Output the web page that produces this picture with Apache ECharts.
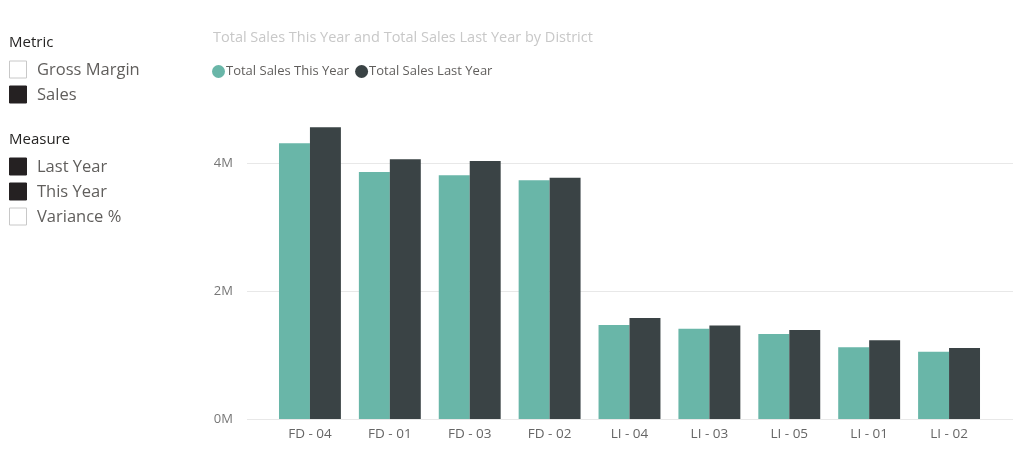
<!DOCTYPE html>
<html lang="en">
<head>
    <meta charset="UTF-8">
    <title>Total Sales by District</title>
    <script src="https://cdn.jsdelivr.net/npm/echarts@6/dist/echarts.min.js"></script>
    <style>
        html, body { margin: 0; padding: 0; background: #fff; }
        #chart { width: 1024px; height: 452px; }
    </style>
</head>
<body>
<div id="chart"></div>
<script>
    // data (values in M)
    var districts = ['FD - 04', 'FD - 01', 'FD - 03', 'FD - 02', 'LI - 04', 'LI - 03', 'LI - 05', 'LI - 01', 'LI - 02'];
    var salesThisYear = [4.31, 3.86, 3.81, 3.73, 1.47, 1.41, 1.33, 1.12, 1.05];
    var salesLastYear = [4.56, 4.06, 4.03, 3.77, 1.58, 1.46, 1.39, 1.23, 1.11];
    var yTicks = [0, 2, 4];

    // slicer panels on the left
    var metricItems = [['Gross Margin', false], ['Sales', true]];
    var measureItems = [['Last Year', true], ['This Year', true], ['Variance %', false]];

    var font = "'Segoe UI', 'Open Sans', 'Noto Sans', sans-serif";
    var chart = echarts.init(document.getElementById('chart'));

    // title centre y, then one row every 25px
    function slicer(title, items, cy) {
        var els = [{
            type: 'text', x: 9, y: cy,
            style: { text: title, fill: '#252423', font: '15px ' + font, verticalAlign: 'middle' }
        }];
        items.forEach(function (it, i) {
            var y = cy + 26 + i * 25;
            els.push({
                type: 'rect', shape: { x: 9.5, y: y - 8, width: 17, height: 17 },
                style: { fill: it[1] ? '#252122' : '#fff', stroke: it[1] ? '#252122' : '#c8c8c8', lineWidth: 1 }
            });
            els.push({
                type: 'text', x: 37, y: y + 1,
                style: { text: it[0], fill: '#605e5c', font: '16.5px ' + font, verticalAlign: 'middle' }
            });
        });
        return els;
    }

    var option = {
        animation: false,
        color: ['#69b6a8', '#3a4345'],
        title: {
            text: 'Total Sales This Year and Total Sales Last Year by District',
            left: 208, top: 25,
            textStyle: { color: '#c8c8c8', fontSize: 14.5, fontWeight: 'normal', fontFamily: font }
        },
        legend: {
            left: 207, top: 60,
            icon: 'circle', itemWidth: 13, itemHeight: 13, itemGap: 6,
            textStyle: { color: '#605e5c', fontSize: 13, fontFamily: font, padding: [0, 0, 0, -4] },
            data: ['Total Sales This Year', 'Total Sales Last Year']
        },
        grid: [
            { left: 270, right: 35, top: 163, bottom: 33 },
            { left: 247, right: 11, top: 163, bottom: 33 }
        ],
        xAxis: [
            {
                type: 'category', gridIndex: 0, data: districts,
                axisLine: { show: false }, axisTick: { show: false },
                axisLabel: { color: '#666', fontSize: 13.5, fontFamily: font, margin: 8 }
            },
            { type: 'category', gridIndex: 1, show: false, data: districts }
        ],
        yAxis: [
            { type: 'value', gridIndex: 0, min: 0, max: 4, interval: 2, show: false },
            {
                type: 'value', gridIndex: 1, min: yTicks[0], max: yTicks[yTicks.length - 1], interval: 2,
                axisLine: { show: false }, axisTick: { show: false },
                splitLine: { lineStyle: { color: '#e8e8e8', width: 1 } },
                axisLabel: { color: '#777', fontSize: 13, fontFamily: font, margin: 14,
                    formatter: function (v) { return v + 'M'; } }
            }
        ],
        series: [
            {
                name: 'Total Sales This Year', type: 'bar', xAxisIndex: 0, yAxisIndex: 0,
                data: salesThisYear, barGap: '0%', barCategoryGap: '22.5%', clip: false
            },
            {
                name: 'Total Sales Last Year', type: 'bar', xAxisIndex: 0, yAxisIndex: 0,
                data: salesLastYear, barGap: '0%', barCategoryGap: '22.5%', clip: false
            }
        ],
        graphic: slicer('Metric', metricItems, 43).concat(slicer('Measure', measureItems, 140))
    };

    chart.setOption(option);
</script>
</body>
</html>
